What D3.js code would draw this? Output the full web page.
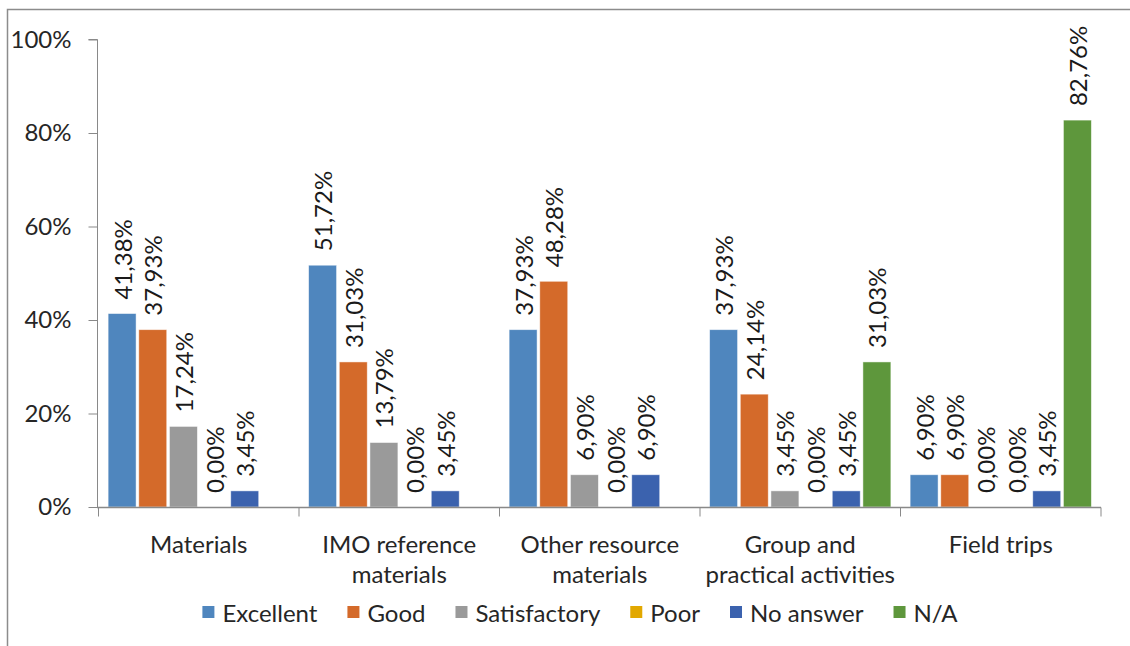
<!DOCTYPE html>
<html>
<head>
<meta charset="utf-8">
<script src="https://cdn.jsdelivr.net/npm/d3@7"></script>
<style>
  html, body { margin: 0; padding: 0; background: #fff; }
  svg { display: block; }
  text { font-family: Lato, "Open Sans", sans-serif; }
</style>
</head>
<body>
<svg id="chart" width="1130" height="646"></svg>
<script>
// ---- data ----
const categories = [
  ["Materials"],
  ["IMO reference", "materials"],
  ["Other resource", "materials"],
  ["Group and", "practical activities"],
  ["Field trips"]
];
const seriesNames = ["Excellent", "Good", "Satisfactory", "Poor", "No answer", "N/A"];
const excellent   = [41.38, 51.72, 37.93, 37.93, 6.90];
const good        = [37.93, 31.03, 48.28, 24.14, 6.90];
const satisfactory= [17.24, 13.79, 6.90, 3.45, 0.00];
const poor        = [0.00, 0.00, 0.00, 0.00, 0.00];
const noAnswer    = [3.45, 3.45, 6.90, 3.45, 3.45];
const na          = [null, null, null, 31.03, 82.76];
const yTicks = [0, 20, 40, 60, 80, 100];
const colors = ["#4F86BE", "#D46A2A", "#9A9A9A", "#E2A800", "#3B62AE", "#5E973C"];

const seriesValues = [excellent, good, satisfactory, poor, noAnswer, na];

// ---- layout ----
const svg = d3.select("#chart");
const plot = { left: 97, bandLeft: 98.5, right: 1101, top: 39.5, bottom: 507 };
const FS = 24;
const axisColor = "#898989";
const textColor = "#262626";

// outer frame
svg.append("rect")
  .attr("x", 7.5).attr("y", 9.5)
  .attr("width", 1140).attr("height", 660)
  .attr("fill", "none").attr("stroke", "#8c8c8c").attr("stroke-width", 1.5);

const catKeys = categories.map(c => c.join(" "));
const x0 = d3.scaleBand().domain(catKeys).range([plot.bandLeft, plot.right]).padding(0);
const x1 = d3.scaleBand().domain(seriesNames).range([0, x0.bandwidth()])
  .paddingInner(0.088).paddingOuter(0.314);
const y = d3.scaleLinear().domain([0, 100]).range([plot.bottom, plot.top]);

// bars
const g = svg.append("g");
catKeys.forEach((ck, ci) => {
  const cg = g.append("g").attr("transform", `translate(${x0(ck)},0)`);
  seriesNames.forEach((s, si) => {
    const v = seriesValues[si][ci];
    if (v === null) return;
    const bx = x1(s);
    if (v > 0) {
      cg.append("rect")
        .attr("x", bx).attr("y", y(v))
        .attr("width", x1.bandwidth()).attr("height", y(0) - y(v))
        .attr("fill", colors[si])
        .attr("stroke", "rgba(255,255,255,0.6)").attr("stroke-width", 0.8);
    }
    const lx = bx + x1.bandwidth() / 2;
    const ly = y(v) - 14;
    cg.append("text")
      .attr("transform", `translate(${lx},${ly}) rotate(-90)`)
      .attr("text-anchor", "start")
      .attr("dominant-baseline", "central")
      .attr("font-size", FS)
      .attr("fill", "#1a1a1a")
      .text(v.toFixed(2).replace(".", ",") + "%");
  });
});

// y axis
const yAxis = svg.append("g").attr("transform", `translate(${plot.left + 0.5},0)`)
  .call(d3.axisLeft(y).tickValues(yTicks).tickSize(9).tickPadding(17)
    .tickFormat(d => d + "%"));
yAxis.select(".domain").attr("stroke", axisColor).attr("d", `M-9,${plot.top}H0V${plot.bottom}`);
yAxis.selectAll(".tick line").attr("stroke", axisColor);
yAxis.selectAll(".tick text").attr("font-size", FS).attr("fill", textColor)
  .attr("font-family", "Lato, sans-serif");

// x axis
const xAxisG = svg.append("g").attr("transform", `translate(0,${plot.bottom + 0.5})`);
xAxisG.append("line").attr("x1", plot.left).attr("x2", plot.right)
  .attr("stroke", axisColor).attr("stroke-width", 1.5);
const bounds = catKeys.map(k => x0(k)).concat([plot.right]);
xAxisG.selectAll("line.tk").data(bounds).enter().append("line")
  .attr("class", "tk")
  .attr("x1", d => d).attr("x2", d => d).attr("y1", 0).attr("y2", 9)
  .attr("stroke", axisColor);

// category labels
categories.forEach((lines, ci) => {
  const cx = x0(catKeys[ci]) + x0.bandwidth() / 2;
  lines.forEach((ln, li) => {
    svg.append("text")
      .attr("x", cx).attr("y", 543 + li * 30)
      .attr("text-anchor", "middle").attr("dominant-baseline", "central")
      .attr("font-size", FS).attr("fill", textColor)
      .text(ln);
  });
});

// legend
const legend = svg.append("g");
let lx = 0;
const gap = 30;
seriesNames.forEach((s, i) => {
  const it = legend.append("g");
  it.append("rect").attr("x", 0).attr("y", -6).attr("width", 12).attr("height", 12).attr("fill", colors[i]);
  const t = it.append("text").attr("x", 20).attr("y", 0)
    .attr("dominant-baseline", "central").attr("font-size", FS).attr("fill", textColor).text(s);
  const w = 20 + t.node().getComputedTextLength();
  it.attr("transform", `translate(${lx},0)`);
  lx += w + gap;
});
const totalW = lx - gap;
legend.attr("transform", `translate(${580 - totalW / 2},612)`);
</script>
</body>
</html>
